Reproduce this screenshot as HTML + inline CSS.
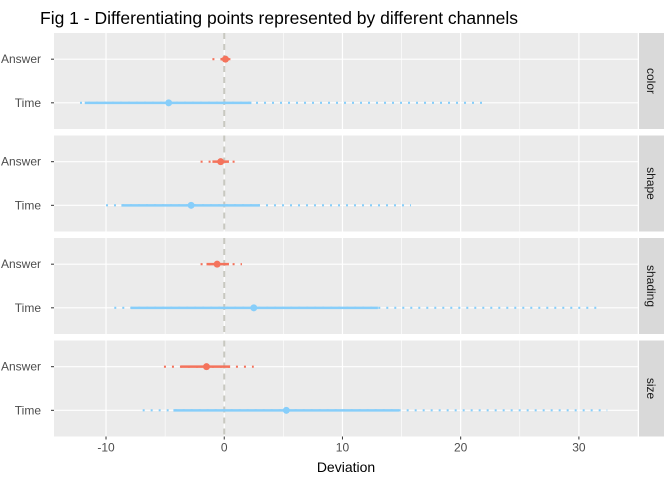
<!DOCTYPE html>
<html><head><meta charset="utf-8"><style>
body{margin:0;background:#fff;}
svg text{font-family:"Liberation Sans",sans-serif;}
</style></head><body>
<svg id="c" width="672" height="480" xmlns="http://www.w3.org/2000/svg">
<text x="40" y="24" font-size="17.5" fill="#000">Fig 1 - Differentiating points represented by different channels</text>
<text x="346" y="472" font-size="14" text-anchor="middle" fill="#000">Deviation</text>
</svg>
<script>
const facets=["color","shape","shading","size"];
const rows=["Answer","Time"];
const points=[[0.1,-4.7],[-0.3,-2.8],[-0.6,2.5],[-1.5,5.25]];
const solidLo=[[-0.3,-11.8],[-1.0,-8.7],[-1.5,-7.9],[-3.7,-4.3]];
const solidHi=[[0.4,2.3],[0.4,3.0],[0.4,13.0],[0.5,14.8]];
const dotLo=[[-1.0,-12.2],[-2.0,-10.0],[-2.0,-9.3],[-5.1,-6.9]];
const dotHi=[[0.7,22.0],[0.9,15.8],[1.5,31.5],[2.5,32.4]];
const xTicks=[-10,0,10,20,30];
const colors=["#F4735C","#87CEFA"];
const svg=document.getElementById('c');
const NS="http://www.w3.org/2000/svg";
const L=54,R=638,xmin=-14.4,xmax=35.0;
const X=v=>L+(v-xmin)/(xmax-xmin)*(R-L);
const PT=33,PH=96,STEP=102.5;
function mk(t,a,p){const e=document.createElementNS(NS,t);for(const k in a)e.setAttribute(k,a[k]);(p||svg).appendChild(e);return e;}
facets.forEach((f,fi)=>{
 const top=PT+fi*STEP;
 const Y=ri=>top+PH*(0.6+ri)/2.2;
 const g=mk('g',{});
 
 
 mk('rect',{x:L,y:top,width:R-L,height:PH,fill:'#EBEBEB'},g);
 for(let v=-10;v<=35;v+=5){if(v%10!==0){mk('line',{x1:X(v),x2:X(v),y1:top,y2:top+PH,stroke:'#fff','stroke-width':0.6},g);}}
 xTicks.forEach(v=>mk('line',{x1:X(v),x2:X(v),y1:top,y2:top+PH,stroke:'#fff','stroke-width':1.2},g));
 rows.forEach((r,ri)=>mk('line',{x1:L,x2:R,y1:Y(ri),y2:Y(ri),stroke:'#fff','stroke-width':1.2},g));
 mk('line',{x1:X(0),x2:X(0),y1:top,y2:top+PH,stroke:'#c8c8c0','stroke-width':2,'stroke-dasharray':'6 5'},g);
 const s=mk('rect',{x:R+1,y:top,width:25,height:PH,fill:'#D9D9D9'});
 
 
 const st=mk('text',{x:0,y:0,'font-size':12,fill:'#1a1a1a','text-anchor':'middle',transform:`translate(${R+9},${top+PH/2}) rotate(90)`});
 st.textContent=f;
 
 
 rows.forEach((r,ri)=>{
  const y=Y(ri);
  const lb=mk('text',{x:41,y:y+4,'font-size':12,fill:'#4d4d4d','text-anchor':'end'});
  lb.textContent=r;
  
  
  mk('line',{x1:L-3,x2:L,y1:y,y2:y,stroke:'#333','stroke-width':1});
  const d=mk('line',{x1:X(dotLo[fi][ri]),x2:X(dotHi[fi][ri]),y1:y,y2:y,stroke:colors[ri],'stroke-width':2.2,'stroke-dasharray':'2 6'});
  
  
  const sl=mk('line',{x1:X(solidLo[fi][ri]),x2:X(solidHi[fi][ri]),y1:y,y2:y,stroke:colors[ri],'stroke-width':2.5});
  
  
  const c=mk('circle',{cx:X(points[fi][ri]),cy:y,r:3.5,fill:colors[ri]});
  
  
 });
});
const bottom=PT+3*STEP+PH;
xTicks.forEach(v=>{
 mk('line',{x1:X(v),x2:X(v),y1:bottom,y2:bottom+3,stroke:'#333','stroke-width':1});
 const t=mk('text',{x:X(v),y:bottom+15,'font-size':12,fill:'#4d4d4d','text-anchor':'middle'});
 t.textContent=v;
 
 
});
</script>
</body></html>
